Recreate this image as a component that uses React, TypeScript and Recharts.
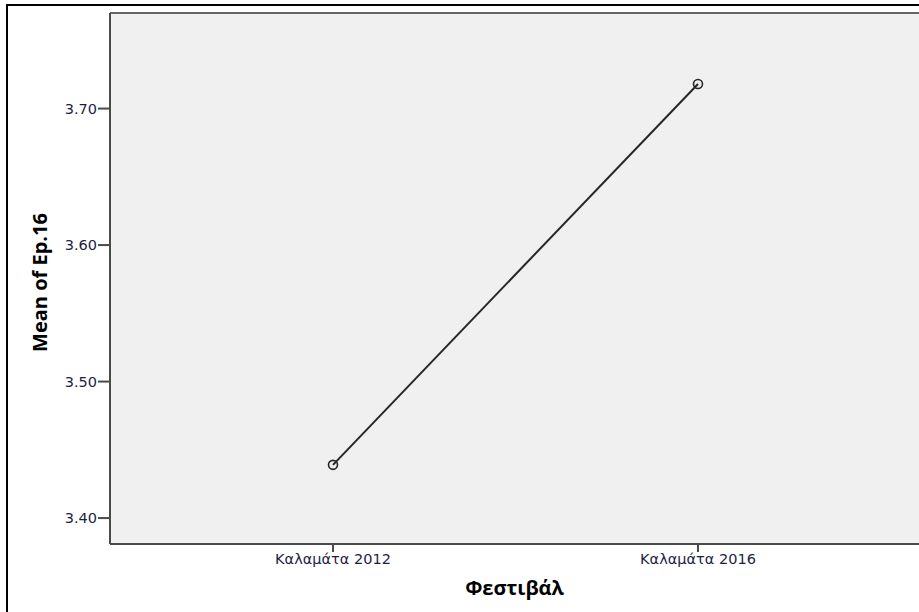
import { CartesianGrid, Label, Line, LineChart, ReferenceLine, XAxis, YAxis } from 'recharts';

const festivals = ['Καλαμάτα 2012', 'Καλαμάτα 2016'];
const means = [3.439, 3.718];
const yTicks = [3.4, 3.5, 3.6, 3.7];
const yDomain: [number, number] = [3.381, 3.77];

const data = festivals.map((name, i) => ({ name, mean: means[i] }));

const tickStyle = { fill: '#1e1e44', fontSize: 14.5, fontFamily: 'DejaVu Sans' };
const labelStyle = { fill: '#000', fontSize: 20, fontWeight: 700, fontFamily: 'Open Sans' };

/** SPSS-style means plot: one line between two festival years. */
export default function App() {
  return (
    <div style={{ position: 'fixed', left: 0, top: 0, width: 919, height: 612, background: '#fff', overflow: 'hidden' }}>
      <div
        style={{
          position: 'absolute',
          left: 6,
          top: 4,
          width: 940,
          height: 640,
          borderTop: '2px solid #000',
          borderLeft: '2px solid #000',
        }}
      />
      <div style={{ position: 'absolute', left: 0, top: 0 }}>
        <LineChart width={919} height={612} data={data} margin={{ top: 13, right: 0, bottom: 0, left: 0 }}>
          <CartesianGrid fill="#f0f0f0" stroke="none" horizontal={false} vertical={false} />
          <ReferenceLine y={yDomain[1]} stroke="#666" strokeWidth={2} />
          <XAxis
            dataKey="name"
            height={68}
            padding={{ left: 223, right: 221 }}
            axisLine={{ stroke: '#4a4a4a', strokeWidth: 2 }}
            tickLine={{ stroke: '#4a4a4a', strokeWidth: 2 }}
            tickSize={8}
            tickMargin={2}
            tick={tickStyle}
          >
            <Label value="Φεστιβάλ" position="insideBottom" offset={17} style={labelStyle} />
          </XAxis>
          <YAxis
            width={110}
            domain={yDomain}
            ticks={yTicks}
            allowDataOverflow
            tickFormatter={(v: number) => v.toFixed(2)}
            axisLine={{ stroke: '#4a4a4a', strokeWidth: 2 }}
            tickLine={{ stroke: '#4a4a4a', strokeWidth: 2 }}
            tickSize={12}
            tickMargin={1}
            tick={tickStyle}
          >
            <Label
              value="Mean of Ep.16"
              angle={-90}
              position="insideLeft"
              offset={40}
              dy={4}
              style={{ ...labelStyle, textAnchor: 'middle' }}
            />
          </YAxis>
          <Line
            type="linear"
            dataKey="mean"
            stroke="#262626"
            strokeWidth={2}
            dot={{ r: 4.5, fill: 'none', stroke: '#262626', strokeWidth: 1.6 }}
            activeDot={false}
            isAnimationActive={false}
          />
        </LineChart>
      </div>
    </div>
  );
}
